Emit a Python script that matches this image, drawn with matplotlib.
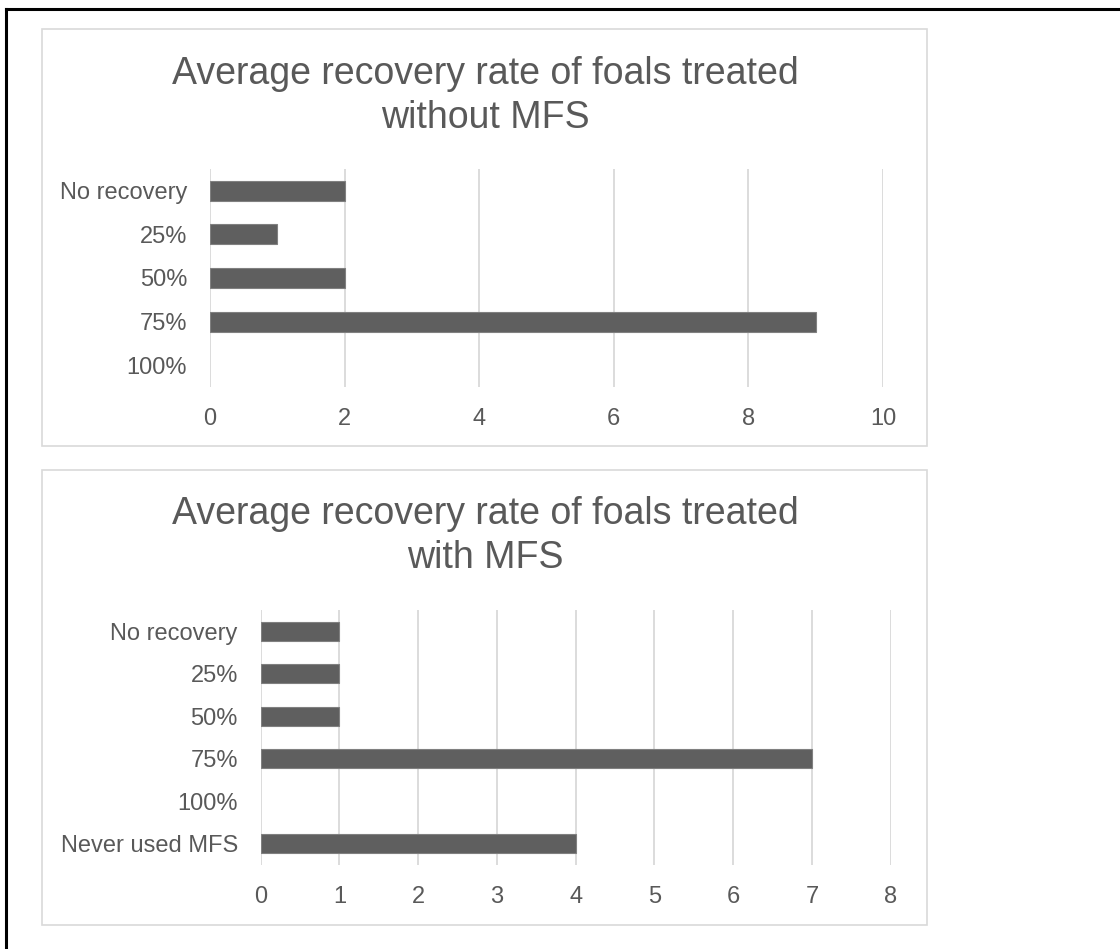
import matplotlib
matplotlib.use("Agg")
import matplotlib.pyplot as plt
from matplotlib.patches import Rectangle
from matplotlib.lines import Line2D

plt.rcParams['font.family'] = ['Liberation Sans', 'DejaVu Sans']

# Data
categories_without = ["No recovery", "25%", "50%", "75%", "100%"]
counts_without = [2, 1, 2, 9, 0]
xticks_without = [0, 2, 4, 6, 8, 10]

categories_with = ["No recovery", "25%", "50%", "75%", "100%", "Never used MFS"]
counts_with = [1, 1, 1, 7, 0, 4]
xticks_with = [0, 1, 2, 3, 4, 5, 6, 7, 8]

title_without = ["Average recovery rate of foals treated", "without MFS"]
title_with = ["Average recovery rate of foals treated", "with MFS"]

W, H = 1120, 949
TEXT = "#595959"
GRID = "#d9d9d9"
BAR = "#5f5f5f"

fig = plt.figure(figsize=(W / 100, H / 100), dpi=100)


def fx(x):
    return x / W


def fy(y):
    return 1 - y / H


# outer frame (top and left edges)
fig.add_artist(Line2D([fx(5.5), fx(5.5)], [fy(8.5), fy(949)], color="black", lw=2.2,
                      transform=fig.transFigure, solid_capstyle="projecting"))
fig.add_artist(Line2D([fx(5.5), fx(1120)], [fy(8.5), fy(8.5)], color="black", lw=2.2,
                      transform=fig.transFigure, solid_capstyle="projecting"))


def panel(x0, y0, x1, y1):
    fig.add_artist(Rectangle((fx(x0), fy(y1)), fx(x1) - fx(x0), fy(y0) - fy(y1),
                             transform=fig.transFigure, fill=False,
                             edgecolor=GRID, lw=1.2))


def chart(box, cats, vals, ticks, title_lines, title_y, cx):
    left, top, right, bottom = box
    ax = fig.add_axes([fx(left), fy(bottom), fx(right) - fx(left), fy(top) - fy(bottom)])
    pos = list(range(len(cats)))
    edge_w = [0.8 if v else 0 for v in vals]
    ax.barh(pos, vals, height=0.455, color=BAR, edgecolor="#808080",
            linewidth=edge_w, zorder=3)
    ax.set_ylim(len(cats) - 0.5, -0.5)
    ax.set_xlim(ticks[0], ticks[-1])
    ax.set_xticks(ticks)
    ax.set_yticks(pos)
    ax.set_yticklabels(cats)
    ax.tick_params(axis="both", length=0, labelsize=17, labelcolor=TEXT)
    ax.tick_params(axis="y", pad=16.5)
    ax.tick_params(axis="x", pad=15)
    ax.grid(axis="x", color=GRID, lw=1.3, zorder=0)
    for s in ax.spines.values():
        s.set_visible(False)
    ax.set_facecolor("none")
    for i, line in enumerate(title_lines):
        fig.text(fx(cx), fy(title_y + i * 44), line, ha="center", va="baseline",
                 fontsize=27, color=TEXT)
    return ax


panel(42, 29, 927, 446)
panel(42, 470, 927, 925)

chart((210, 169, 883, 387), categories_without, counts_without, xticks_without,
      title_without, 84, 485)
chart((260.7, 610, 890.7, 865), categories_with, counts_with, xticks_with,
      title_with, 524, 485)

fig.savefig("out.png", dpi=100, facecolor="white")
